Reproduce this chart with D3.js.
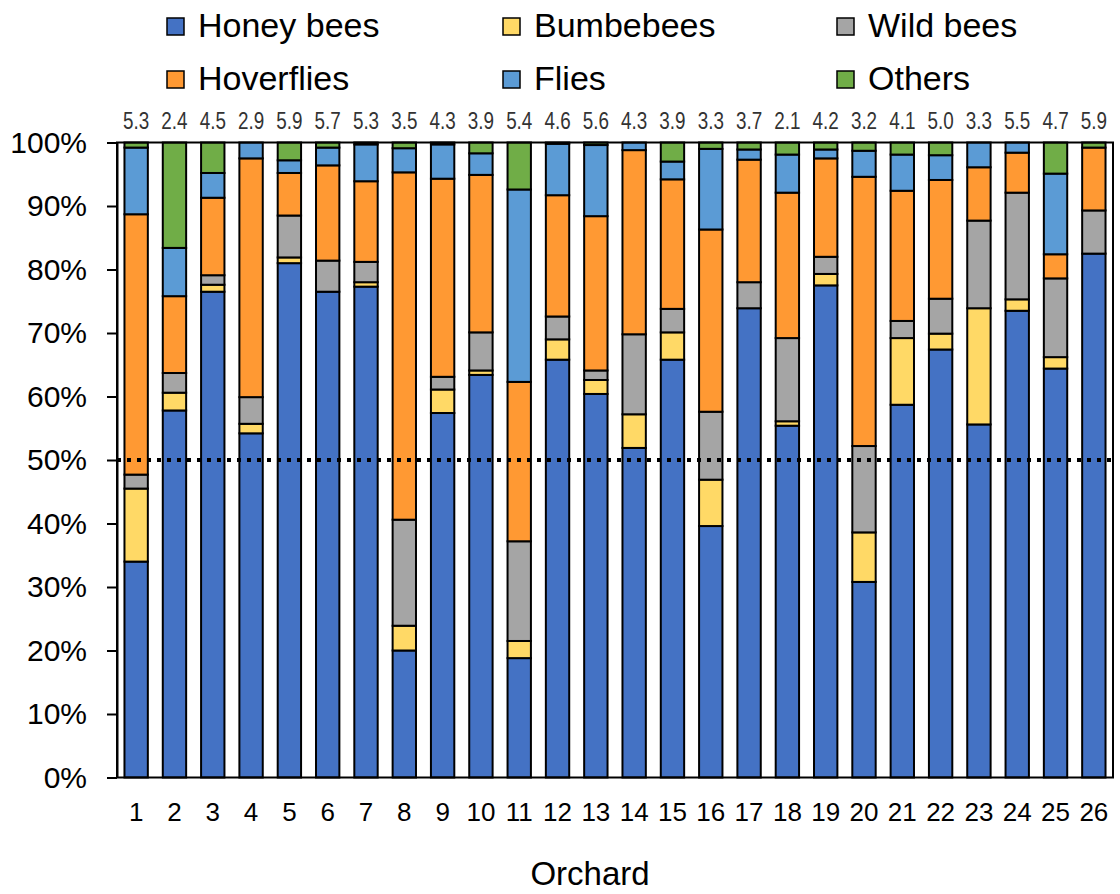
<!DOCTYPE html>
<html>
<head>
<meta charset="utf-8">
<script src="https://cdn.jsdelivr.net/npm/d3@7"></script>
<style>
  body { margin: 0; background: #fff; }
  svg { display: block; font-family: "Liberation Sans", Arial, sans-serif; }
</style>
</head>
<body>
<svg id="chart" width="1120" height="894"></svg>
<script>
const orchards = ["1","2","3","4","5","6","7","8","9","10","11","12","13","14","15","16","17","18","19","20","21","22","23","24","25","26"];
const seriesNames = ["Honey bees","Bumbebees","Wild bees","Hoverflies","Flies","Others"];
const seriesColors = ["#4472C4","#FFD966","#A5A5A5","#FF9933","#5B9BD5","#70AD47"];
const honeyBees  = [34.0,57.8,76.5,54.2,81.0,76.5,77.3,20.0,57.4,63.4,18.8,65.8,60.4,51.9,65.8,39.6,73.9,55.4,77.5,30.8,58.7,67.4,55.6,73.5,64.4,82.5];
const bumblebees = [11.5,2.8,1.1,1.5,0.9,0,0.7,3.9,3.7,0.7,2.7,3.2,2.2,5.3,4.3,7.3,0,0.7,1.8,7.8,10.5,2.5,18.3,1.8,1.8,0];
const wildBees   = [2.2,3.1,1.5,4.2,6.6,4.9,3.2,16.7,2.0,6.0,15.7,3.6,1.5,12.6,3.7,10.7,4.1,13.1,2.7,13.6,2.7,5.5,13.8,16.8,12.4,6.8];
const hoverflies = [41.0,12.1,12.2,37.6,6.7,15.0,12.7,54.7,31.2,24.8,25.1,19.1,24.3,29.0,20.4,28.7,19.3,22.9,15.5,42.4,20.5,18.7,8.4,6.3,3.8,9.9];
const flies      = [10.5,7.6,3.9,2.5,2.0,2.8,5.8,3.8,5.4,3.4,30.3,8.1,11.2,1.2,2.8,12.7,1.6,6.0,1.4,4.1,5.7,3.9,3.9,1.6,12.7,0];
const others     = [0.8,16.6,4.8,0,2.8,0.8,0.3,0.9,0.3,1.7,7.4,0.2,0.4,0,3.0,1.0,1.1,1.9,1.1,1.3,1.9,2.0,0,0,4.9,0.8];
const topValues  = ["5.3","2.4","4.5","2.9","5.9","5.7","5.3","3.5","4.3","3.9","5.4","4.6","5.6","4.3","3.9","3.3","3.7","2.1","4.2","3.2","4.1","5.0","3.3","5.5","4.7","5.9"];
const yTicks = [0,10,20,30,40,50,60,70,80,90,100];
const refLine = 50;
const xTitle = "Orchard";

const seriesValues = [honeyBees,bumblebees,wildBees,hoverflies,flies,others];
const rows = orchards.map((o,i) => {
  const r = {orchard:o};
  seriesNames.forEach((s,j) => r[s] = seriesValues[j][i]);
  return r;
});

const svg = d3.select("#chart");
const pL = 117, pR = 1113, pT = 142.5, pB = 777.5;

const x = d3.scaleBand().domain(orchards).range([pL,pR]).paddingInner(0.39).paddingOuter(0.195);
const y = d3.scaleLinear().domain([0,100]).range([pB,pT]);
const color = d3.scaleOrdinal().domain(seriesNames).range(seriesColors);

const stacked = d3.stack().keys(seriesNames)(rows);

svg.append("g").selectAll("g").data(stacked).join("g")
  .attr("fill", d => color(d.key))
  .selectAll("rect").data(d => d.filter(p => p[1]-p[0] > 0)).join("rect")
  .attr("x", d => x(d.data.orchard))
  .attr("width", x.bandwidth())
  .attr("y", d => y(d[1]))
  .attr("height", d => y(d[0]) - y(d[1]))
  .attr("stroke", "#000")
  .attr("stroke-width", 2);

// frame
svg.append("rect").attr("x", pL).attr("y", pT).attr("width", pR-pL).attr("height", pB-pT)
  .attr("fill","none").attr("stroke","#000").attr("stroke-width",2);

// y axis
const yAxis = svg.append("g").attr("transform", `translate(${pL},0)`)
  .call(d3.axisLeft(y).tickValues(yTicks).tickFormat(d => d + "%").tickSize(10).tickSizeOuter(0).tickPadding(20));
yAxis.select(".domain").attr("stroke","#000").attr("stroke-width",2);
yAxis.selectAll(".tick line").attr("stroke","#000").attr("stroke-width",2);
yAxis.selectAll(".tick text").attr("font-size",30).attr("fill","#000").attr("font-family",'"Liberation Sans", Arial, sans-serif');

// x axis
const xAxis = svg.append("g").attr("transform", `translate(0,${pB})`)
  .call(d3.axisBottom(x).tickSize(0).tickPadding(25));
xAxis.select(".domain").remove();
xAxis.selectAll(".tick text").attr("font-size",26).attr("fill","#000").attr("font-family",'"Liberation Sans", Arial, sans-serif');

// 50% reference line
svg.append("line").attr("x1", pL).attr("x2", pR).attr("y1", y(refLine)).attr("y2", y(refLine))
  .attr("stroke","#000").attr("stroke-width",4).attr("stroke-dasharray","4,6");

// top numbers
svg.append("g").selectAll("text").data(orchards).join("text")
  .attr("transform", (d,i) => `translate(${x(d)+x.bandwidth()/2},129) scale(0.82,1)`)
  .attr("text-anchor","middle").attr("font-size",23).attr("fill","#333")
  .text((d,i) => topValues[i]);

// x title
svg.append("text").attr("x", (pL+pR)/2 - 25).attr("y", 885).attr("text-anchor","middle")
  .attr("font-size",33).attr("fill","#000").text(xTitle);

// legend
const legCols = [167, 503, 837], legRows = [37, 90];
const leg = svg.append("g").selectAll("g").data(seriesNames).join("g")
  .attr("transform", (d,i) => `translate(${legCols[i%3]},${legRows[Math.floor(i/3)]})`);
leg.append("rect").attr("x",0).attr("y",-19).attr("width",17).attr("height",17)
  .attr("fill", d => color(d)).attr("stroke","#000").attr("stroke-width",1.5);
leg.append("text").attr("x",31).attr("y",0).attr("font-size",34).attr("fill","#000").text(d => d);
</script>
</body>
</html>
